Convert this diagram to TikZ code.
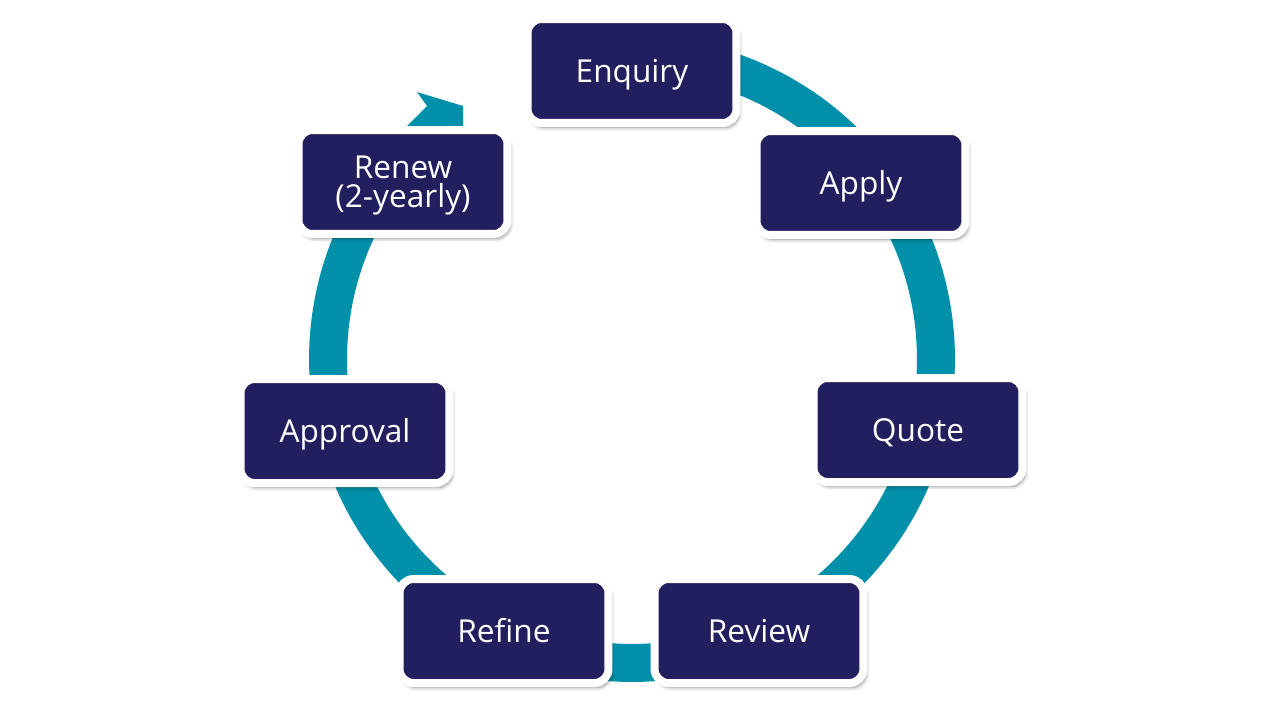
\documentclass[tikz,border=0pt]{standalone}
\usepackage{fontspec}
\setmainfont{Open Sans}
\usetikzlibrary{shadows.blur}

\definecolor{cyclenavy}{HTML}{221F5E}
\definecolor{cycleteal}{HTML}{0090A9}

\begin{document}
\begin{tikzpicture}[
    x=0.02cm, y=-0.02cm,
    stage/.style={rectangle, rounded corners=0.28cm, fill=cyclenavy, draw=white, line width=0.16cm, minimum width=4.18cm, minimum height=2.08cm, text=white, align=center, font=\fontsize{18}{16.5}\selectfont, blur shadow={shadow xshift=1.5pt, shadow yshift=-2.5pt, shadow blur steps=6, shadow opacity=45}},
    oneline/.style={stage, text height=12.9pt, text depth=0pt},
    twoline/.style={stage, text height=33.3pt, text depth=4pt},
    ring/.style={draw=cycleteal, line width=0.76cm}
]
\useasboundingbox (0,0) rectangle (1264,711);
\coordinate (ctr) at (632,359);

% Cycle ring
\draw[ring] ([shift={(90:6.08cm)}]ctr) arc[start angle=90, end angle=-220, radius=6.08cm];
% Arrow head (its lower part sits under the Renew box)
\fill[cycleteal] (427,106) -- (417,92) -- (463,106) -- (463,150) -- (383,150) -- cycle;

% Stages
\node[oneline] (enquiry) at (632,71) {Enquiry};
\node[oneline] (apply) at (861,183) {Apply};
\node[oneline] (quote) at (918,430) {Quote};
\node[oneline] (review) at (759,631) {Review};
\node[oneline] (refine) at (504,631) {Refine};
\node[oneline] (approval) at (345,431) {Approval};
\node[twoline] (renew) at (403,182) {Renew\\(2-yearly)};

\end{tikzpicture}
\end{document}
